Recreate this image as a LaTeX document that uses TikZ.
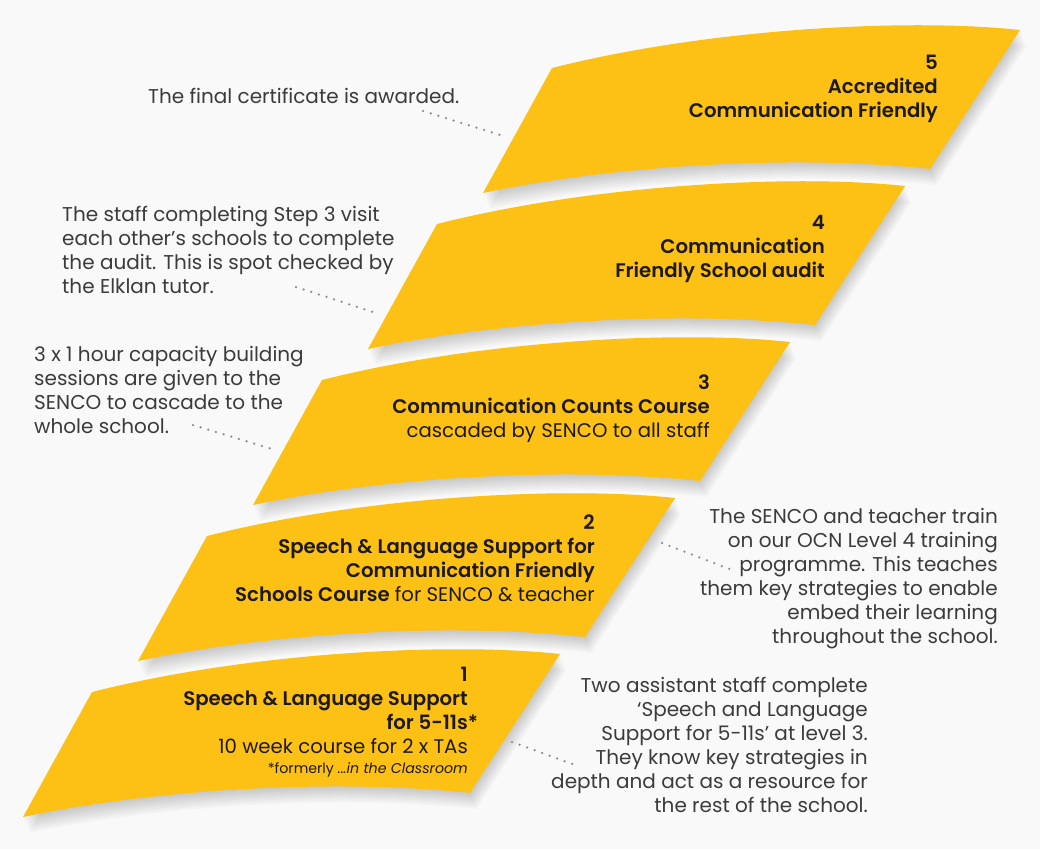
\documentclass[tikz,border=0pt]{standalone}
\usepackage{fontspec}
\setmainfont{Poppins}[BoldFont={Poppins SemiBold}]
\usetikzlibrary{positioning}
\definecolor{stepgold}{HTML}{FDC014}
\definecolor{pagegray}{HTML}{F9F9F9}
\definecolor{desctext}{HTML}{3B3B3B}
\definecolor{steptext}{HTML}{1E1A12}
\definecolor{dotgray}{HTML}{8C8C8C}

\begin{document}
\begin{tikzpicture}[x=1pt,y=-1pt,
    desc/.style={inner sep=0pt, text=desctext, font=\fontsize{20}{24}\selectfont},
    steplabel/.style={inner sep=0pt, text=steptext, align=right, anchor=base east, font=\fontsize{19.7}{24}\selectfont},
    leader/.style={dotgray, line width=2.5pt, line cap=round, dash pattern=on 0pt off 8pt}]
            {
    \def\band{(92,692) .. controls (250,652) and (450,642) .. (560,654) -- (470,793) .. controls (330,778) and (150,790) .. (23,817) -- cycle}

    \fill[pagegray] (0,0) rectangle (1040,849);
    \useasboundingbox (0,0) rectangle (1040,849);
    \foreach \k in {0,...,4}
        \foreach \d in {1,...,8}
            \fill[black, opacity=0.022, shift={(115*\k+0.8*\d,-156*\k+2*\d)}] \band;
    \foreach \k in {0,...,4}
        \fill[stepgold, shift={(115*\k,-156*\k)}] \band;

    \node[steplabel, font=\fontsize{19.7}{24}\selectfont\bfseries] (t5) at (938,117) {5\\Accredited\\Communication Friendly};
    \node[steplabel, font=\fontsize{19.7}{24}\selectfont\bfseries] (t4) at (825,277) {4\\Communication\\Friendly School audit};
    \node[steplabel] (t3) at (710,437) {\textbf{3}\\\textbf{Communication Counts Course}\\cascaded by SENCO to all staff};
    \node[steplabel] (t2) at (595,601) {\textbf{2}\\\textbf{Speech \& Language Support for}\\\textbf{Communication Friendly}\\\textbf{Schools Course} for SENCO \& teacher};
    \node[steplabel] (t1) at (468,753) {\textbf{1}\\\textbf{Speech \& Language Support}\\\textbf{for 5-11s\rlap{*}}\\10 week course for 2 x TAs};
    \node[steplabel, font=\fontsize{14.2}{16}\selectfont] (t1note) at (468,773) {*formerly \textit{...in the Classroom}};

    \node[desc, anchor=base west] (d5) at (148,103) {The final certificate is awarded.};
    \node[desc, align=left, anchor=base west] (d4) at (62,293) {The staff completing Step 3 visit\\each other’s schools to complete\\the audit. This is spot checked by\\the Elklan tutor.};
    \node[desc, align=left, anchor=base west] (d3) at (34,433) {3 x 1 hour capacity building\\sessions are given to the\\SENCO to cascade to the\\whole school.};
    \node[desc, align=right, anchor=base east] (d2) at (998,643) {The SENCO and teacher train\\on our OCN Level 4 training\\programme. This teaches\\them key strategies to enable\\embed their learning\\throughout the school.};
    \node[desc, align=right, anchor=base east] (d1) at (868,812) {Two assistant staff complete\\‘Speech and Language\\Support for 5-11s’ at level 3.\\They know key strategies in\\depth and act as a resource for\\the rest of the school.};

    \coordinate (l5s) at (423,111);
    \coordinate (l5e) at (500,135);
    \coordinate (l4s) at (296,287);
    \coordinate (l4e) at (373,312);
    \coordinate (l3s) at (193,425);
    \coordinate (l3e) at (272,449);
    \coordinate (l2s) at (662,543);
    \coordinate (l2e) at (732,570);
    \coordinate (l1s) at (512,742);
    \coordinate (l1e) at (578,766);
    \draw[leader] (l5s) -- (l5e);
    \draw[leader] (l4s) -- (l4e);
    \draw[leader] (l3s) -- (l3e);
    \draw[leader] (l2s) -- (l2e);
    \draw[leader] (l1s) -- (l1e);
}
\end{tikzpicture}
\end{document}
